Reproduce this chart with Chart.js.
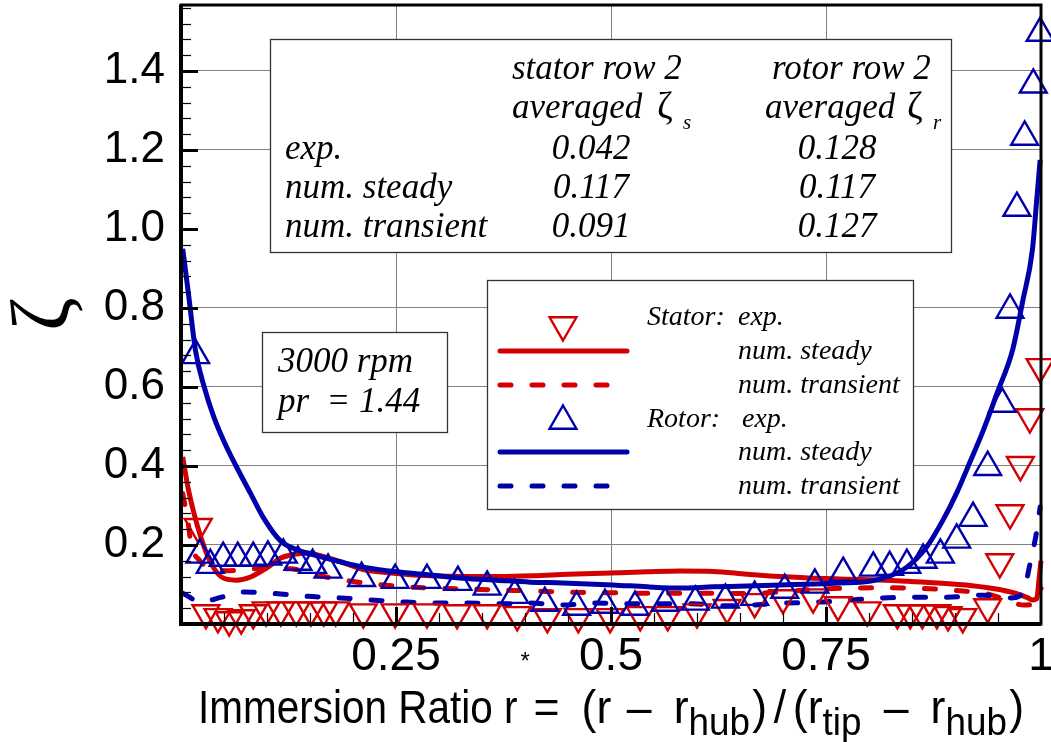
<!DOCTYPE html>
<html>
<head>
<meta charset="utf-8">
<script src="https://cdn.jsdelivr.net/npm/chart.js@4.4.0/dist/chart.umd.min.js"></script>
<style>
  html, body { margin:0; padding:0; background:#fff; }
  #wrap { width:1051px; height:742px; }
</style>
</head>
<body>
<div id="wrap"><canvas id="c" width="1051" height="742"></canvas></div>
<script>
const RED = '#d20000';
const BLUE = '#0000aa';
const SANS = '"Liberation Sans", Arial, sans-serif';
const SERIF = '"Liberation Serif", "Times New Roman", serif';

// x ticks / y ticks
const xTicks = [0, 0.25, 0.5, 0.75, 1];
const yTicks = [0, 0.2, 0.4, 0.6, 0.8, 1.0, 1.2, 1.4];

// rotor exp. (blue up triangles)
const rotorExpX = [0.017,0.022,0.034,0.049,0.066,0.084,0.101,0.119,0.136,0.153,0.171,0.210,0.249,0.286,0.322,0.356,0.388,0.423,0.460,0.493,0.528,0.563,0.598,0.633,0.667,0.702,0.737,0.770,0.805,0.824,0.844,0.863,0.883,0.902,0.921,0.938,0.955,0.964,0.972,0.981,0.991,0.999];
const rotorExpY = [0.680,0.175,0.149,0.167,0.167,0.167,0.170,0.175,0.157,0.149,0.137,0.116,0.111,0.111,0.106,0.094,0.073,0.053,0.043,0.048,0.043,0.053,0.056,0.061,0.068,0.086,0.099,0.129,0.142,0.144,0.149,0.162,0.175,0.213,0.268,0.397,0.557,0.795,1.053,1.233,1.365,1.496];

// stator exp. (red down triangles)
const statorExpX = [0.020,0.029,0.043,0.056,0.070,0.084,0.099,0.116,0.134,0.151,0.166,0.180,0.212,0.249,0.286,0.321,0.356,0.391,0.426,0.462,0.499,0.534,0.566,0.600,0.635,0.667,0.700,0.735,0.764,0.798,0.833,0.848,0.862,0.879,0.892,0.909,0.938,0.952,0.964,0.976,0.987,0.999];
const statorExpY = [0.246,0.028,0.018,0.010,0.015,0.028,0.035,0.035,0.035,0.035,0.035,0.035,0.030,0.030,0.030,0.028,0.028,0.023,0.018,0.018,0.018,0.023,0.023,0.030,0.041,0.056,0.066,0.068,0.048,0.035,0.028,0.028,0.028,0.028,0.023,0.018,0.043,0.157,0.281,0.403,0.524,0.651];

// rotor num. steady
const rotorSteadyX = [0.002,0.009,0.017,0.027,0.038,0.050,0.064,0.081,0.097,0.116,0.136,0.163,0.186,0.212,0.251,0.290,0.328,0.367,0.406,0.444,0.502,0.542,0.580,0.619,0.658,0.697,0.735,0.766,0.793,0.821,0.844,0.867,0.886,0.902,0.917,0.933,0.949,0.967,0.979,0.990,0.995,0.999];
const rotorSteadyY = [0.950,0.830,0.690,0.600,0.525,0.462,0.400,0.330,0.265,0.210,0.187,0.170,0.157,0.144,0.132,0.124,0.116,0.111,0.106,0.104,0.099,0.094,0.091,0.094,0.096,0.099,0.101,0.104,0.106,0.119,0.144,0.195,0.263,0.332,0.408,0.491,0.585,0.694,0.820,0.947,1.073,1.175];

// rotor num. transient
const rotorTransX = [0.002,0.023,0.047,0.072,0.103,0.147,0.185,0.220,0.258,0.298,0.334,0.371,0.406,0.444,0.481,0.522,0.557,0.595,0.636,0.705,0.747,0.780,0.816,0.856,0.891,0.933,0.964,0.979,0.987,0.995,0.999];
const rotorTransY = [0.078,0.056,0.068,0.081,0.078,0.070,0.066,0.061,0.056,0.053,0.053,0.051,0.053,0.048,0.053,0.051,0.051,0.051,0.046,0.053,0.056,0.061,0.066,0.068,0.068,0.073,0.066,0.078,0.150,0.235,0.296];

// stator num. steady
const statorSteadyX = [0.002,0.008,0.015,0.023,0.033,0.047,0.064,0.081,0.101,0.116,0.128,0.147,0.171,0.186,0.212,0.251,0.290,0.330,0.370,0.410,0.450,0.500,0.542,0.580,0.619,0.658,0.697,0.735,0.766,0.805,0.845,0.880,0.920,0.950,0.970,0.985,0.990,0.995,0.998,1.000];
const statorSteadyY = [0.423,0.347,0.281,0.220,0.162,0.119,0.111,0.119,0.144,0.167,0.175,0.180,0.167,0.157,0.138,0.128,0.122,0.120,0.120,0.122,0.126,0.129,0.132,0.134,0.133,0.126,0.120,0.116,0.114,0.112,0.108,0.104,0.097,0.088,0.078,0.066,0.061,0.064,0.120,0.160];

// stator num. transient
const statorTransX = [0.002,0.008,0.012,0.022,0.034,0.054,0.090,0.127,0.143,0.162,0.182,0.212,0.251,0.290,0.328,0.367,0.406,0.444,0.500,0.542,0.580,0.620,0.658,0.700,0.740,0.780,0.820,0.860,0.900,0.940,0.960,0.980,0.990,1.000];
const statorTransY = [0.330,0.260,0.200,0.160,0.140,0.135,0.140,0.140,0.133,0.122,0.114,0.104,0.096,0.091,0.089,0.086,0.084,0.081,0.079,0.078,0.078,0.078,0.077,0.082,0.088,0.091,0.092,0.090,0.085,0.075,0.060,0.048,0.050,0.090];

// table in the top box
const tableRows = ['exp.', 'num. steady', 'num. transient'];
const statorAvg = ['0.042', '0.117', '0.091'];
const rotorAvg = ['0.128', '0.117', '0.127'];

function pts(xs, ys){ return xs.map((x,i)=>({ x, y: ys[i] })); }

function tri(ctx, x, y, r, down){
  const s = down ? -1 : 1;
  ctx.beginPath();
  ctx.moveTo(x, y - s*r);
  ctx.lineTo(x + r*0.866, y + s*r/2);
  ctx.lineTo(x - r*0.866, y + s*r/2);
  ctx.closePath();
  ctx.stroke();
}

function box(ctx, x1, y1, x2, y2){
  ctx.fillStyle = '#fff';
  ctx.fillRect(x1, y1, x2-x1, y2-y1);
  ctx.strokeStyle = '#333';
  ctx.lineWidth = 1.3;
  ctx.strokeRect(x1+0.5, y1+0.5, x2-x1, y2-y1);
  ctx.fillStyle = '#000';
}

function drawBoxes(chart){
  const ctx = chart.ctx;
  ctx.save();
  // averaged values table
  box(ctx, 270, 39, 951, 252);
  ctx.textBaseline = 'alphabetic';
  ctx.font = 'italic 35px ' + SERIF;
  ctx.textAlign = 'left';
  ctx.fillText('stator row 2', 512, 79);
  ctx.fillText('averaged', 512, 118);
  ctx.fillText('rotor row 2', 772, 79);
  ctx.fillText('averaged', 765, 118);
  ctx.font = '38px ' + SERIF;
  ctx.fillText('\u03b6', 657, 118);
  ctx.fillText('\u03b6', 907, 118);
  ctx.font = 'italic 21px ' + SERIF;
  ctx.fillText('s', 683, 129);
  ctx.fillText('r', 933, 129);
  ctx.font = 'italic 35px ' + SERIF;
  const rowY = [159, 198, 237];
  tableRows.forEach((t,i)=>{
    ctx.textAlign = 'left';
    ctx.fillText(t, 285, rowY[i]);
    ctx.textAlign = 'center';
    ctx.fillText(statorAvg[i], 591, rowY[i]);
    ctx.fillText(rotorAvg[i], 837, rowY[i]);
  });

  // operating point
  box(ctx, 262, 332, 447, 432);
  ctx.textAlign = 'left';
  ctx.font = 'italic 35px ' + SERIF;
  ctx.fillText('3000 rpm', 278, 372);
  ctx.fillText('pr  = 1.44', 278, 412);

  // legend
  box(ctx, 487, 280, 913, 509);
  ctx.lineCap = 'round';
  const ds = chart.data.datasets;
  ctx.lineWidth = ds[1].pointBorderWidth;
  ctx.strokeStyle = RED;
  tri(ctx, 563, 325, ds[1].pointRadius, true);
  ctx.strokeStyle = BLUE;
  tri(ctx, 563, 421, ds[0].pointRadius, false);
  const lines = [[ds[4], 351], [ds[5], 385], [ds[2], 452], [ds[3], 486]];
  lines.forEach(([d, y])=>{
    ctx.strokeStyle = d.borderColor;
    ctx.lineWidth = d.borderWidth;
    ctx.setLineDash(d.borderDash || []);
    ctx.beginPath();
    ctx.moveTo(500, y);
    ctx.lineTo(d.borderDash ? 610 : 627, y);
    ctx.stroke();
  });
  ctx.setLineDash([]);
  ctx.fillStyle = '#000';
  ctx.font = 'italic 28px ' + SERIF;
  ctx.fillText('Stator:', 647, 325);
  ctx.fillText('exp.', 738, 325);
  ctx.fillText('num. steady', 738, 359);
  ctx.fillText('num. transient', 738, 393);
  ctx.fillText('Rotor:', 647, 427);
  ctx.fillText('exp.', 742, 427);
  ctx.fillText('num. steady', 738, 460);
  ctx.fillText('num. transient', 738, 494);
  ctx.restore();
}

function drawAxes(chart){
  const ctx = chart.ctx, a = chart.chartArea;
  const xs = chart.scales.x, ys = chart.scales.y;
  ctx.save();
  ctx.strokeStyle = '#000';
  ctx.lineCap = 'butt';
  // y ticks, minor every 0.04
  for (let i = 1; i * 0.04 < ys.max; i++){
    const v = i * 0.04, y = Math.round(ys.getPixelForValue(v)) + 0.5;
    const major = i % 5 === 0;
    ctx.lineWidth = major ? 3 : 1.2;
    ctx.beginPath(); ctx.moveTo(a.left, y); ctx.lineTo(a.left + (major ? 17 : 10), y); ctx.stroke();
  }
  // x ticks, minor every 0.05
  for (let i = 1; i < 20; i++){
    const x = Math.round(xs.getPixelForValue(i * 0.05)) + 0.5;
    const major = i % 5 === 0;
    ctx.lineWidth = major ? 3 : 1.2;
    ctx.beginPath(); ctx.moveTo(x, a.bottom); ctx.lineTo(x, a.bottom - (major ? 17 : 11)); ctx.stroke();
  }
  // frame
  ctx.lineWidth = 3;
  ctx.strokeRect(a.left, a.top, a.right - a.left, a.bottom - a.top);
  ctx.lineWidth = 4;
  ctx.beginPath();
  ctx.moveTo(a.left, a.top); ctx.lineTo(a.left, a.bottom); ctx.lineTo(a.right, a.bottom);
  ctx.stroke();
  ctx.restore();
}

function drawTitles(chart){
  const ctx = chart.ctx;
  ctx.save();
  ctx.fillStyle = '#000';
  ctx.textAlign = 'left';
  ctx.textBaseline = 'alphabetic';
  const big = '46px ' + SANS, sub = '38px ' + SANS;
  const base = 723;
  function put(t, x, y, font, sx){
    ctx.save(); ctx.font = font; ctx.translate(x, y); ctx.scale(sx, 1); ctx.fillText(t, 0, 0); ctx.restore();
    ctx.font = font; return ctx.measureText(t).width * sx;
  }
  // x title: condensed, with the r* superscript and sub-scripts
  let x = 198 + put('Immersion Ratio r', 198, base, big, 0.88);
  put('*', x + 3, base - 54, '24px ' + SANS, 1);
  const rest = [['=', big], ['(r', big], ['\u2013', big], ['r', big, 'hub'], [')', big], ['/', big],
                ['(r', big, 'tip'], ['\u2013', big], ['r', big, 'hub'], [')', big]];
  const sx = 0.97;
  let glyphs = 0;
  rest.forEach(([t, f, s])=>{
    ctx.font = f; glyphs += ctx.measureText(t).width * sx;
    if (s){ ctx.font = sub; glyphs += ctx.measureText(s).width * sx; }
  });
  const gapW = [1, 0.7, 1, 0.1, 0.3, 0.3, 1, 1, 0.1, 0];
  const gsum = gapW.reduce((p, q) => p + q, 0);
  const x0 = x + 16;
  const k = (1024 - x0 - glyphs) / gsum;
  x = x0;
  rest.forEach(([t, f, s], i)=>{
    x += put(t, x, base, f, sx);
    if (s) x += put(s, x, base + 12, sub, sx);
    x += gapW[i] * k;
  });
  ctx.restore();

  // y title: zeta lying on its side
  ctx.save();
  ctx.translate(46, 314);
  ctx.rotate(-Math.PI / 2);
  ctx.font = '82px ' + SERIF;
  ctx.textAlign = 'center';
  ctx.textBaseline = 'middle';
  ctx.fillStyle = '#000';
  ctx.fillText('\u03b6', 0, 0);
  ctx.restore();
}

const framePlugin = {
  id: 'frame',
  beforeDatasetsDraw(chart){ drawBoxes(chart); },
  afterDatasetsDraw(chart){ drawAxes(chart); },
  afterDraw(chart){ drawTitles(chart); }
};

const gridColor = c => (c.tick && (c.tick.value === 0 || c.tick.value === 1)) ? 'rgba(0,0,0,0)' : '#808080';

const DASH = [11, 21];

new Chart(document.getElementById('c').getContext('2d'), {
  type: 'line',
  data: {
    datasets: [
      { label: 'Rotor: exp.', data: pts(rotorExpX, rotorExpY), showLine: false, clip: false,
        pointStyle: 'triangle', pointRadius: 15.5, pointBorderWidth: 2.4,
        pointBorderColor: BLUE, pointBackgroundColor: 'rgba(0,0,0,0)', borderColor: BLUE },
      { label: 'Stator: exp.', data: pts(statorExpX, statorExpY), showLine: false, clip: false,
        pointStyle: 'triangle', pointRotation: 180, pointRadius: 15.5, pointBorderWidth: 2.4,
        pointBorderColor: RED, pointBackgroundColor: 'rgba(0,0,0,0)', borderColor: RED },
      { label: 'Rotor: num. steady', data: pts(rotorSteadyX, rotorSteadyY), clip: false,
        borderColor: BLUE, borderWidth: 5, pointRadius: 0, cubicInterpolationMode: 'monotone' },
      { label: 'Rotor: num. transient', data: pts(rotorTransX, rotorTransY), clip: false,
        borderColor: BLUE, borderWidth: 5, borderDash: DASH, borderCapStyle: 'round',
        pointRadius: 0, cubicInterpolationMode: 'monotone' },
      { label: 'Stator: num. steady', data: pts(statorSteadyX, statorSteadyY), clip: false,
        borderColor: RED, borderWidth: 5, pointRadius: 0, cubicInterpolationMode: 'monotone' },
      { label: 'Stator: num. transient', data: pts(statorTransX, statorTransY), clip: false,
        borderColor: RED, borderWidth: 5, borderDash: DASH, borderCapStyle: 'round',
        pointRadius: 0, cubicInterpolationMode: 'monotone' }
    ]
  },
  options: {
    responsive: false,
    animation: false,
    devicePixelRatio: 1,
    events: [],
    layout: { padding: { top: 5, right: 10, left: 0, bottom: 0 }, autoPadding: false },
    plugins: { legend: { display: false }, tooltip: { enabled: false } },
    elements: { line: { fill: false } },
    scales: {
      x: {
        type: 'linear', min: xTicks[0], max: xTicks[xTicks.length - 1],
        afterFit(s){ s.height = 118; s.paddingLeft = 0; s.paddingRight = 0; s.paddingTop = 0; s.paddingBottom = 0; },
        border: { display: false },
        grid: { color: gridColor, lineWidth: 1, drawTicks: false },
        afterBuildTicks(s){ s.ticks = xTicks.map(v => ({ value: v })); },
        ticks: { padding: 6, color: '#000', maxRotation: 0, autoSkip: false,
          font: { family: SANS, size: 46 },
          callback: v => v === 0 ? '' : String(v) }
      },
      y: {
        type: 'linear', min: 0, max: 1.567,
        afterFit(s){ s.width = 181; s.paddingLeft = 0; s.paddingRight = 0; s.paddingTop = 0; s.paddingBottom = 0; },
        border: { display: false },
        grid: { color: gridColor, lineWidth: 1, drawTicks: false },
        afterBuildTicks(s){ s.ticks = yTicks.map(v => ({ value: v })); },
        ticks: { padding: 16, color: '#000', autoSkip: false,
          font: { family: SANS, size: 44 },
          callback: v => v === 0 ? '' : v.toFixed(1) }
      }
    }
  },
  plugins: [framePlugin]
});
</script>
</body>
</html>
